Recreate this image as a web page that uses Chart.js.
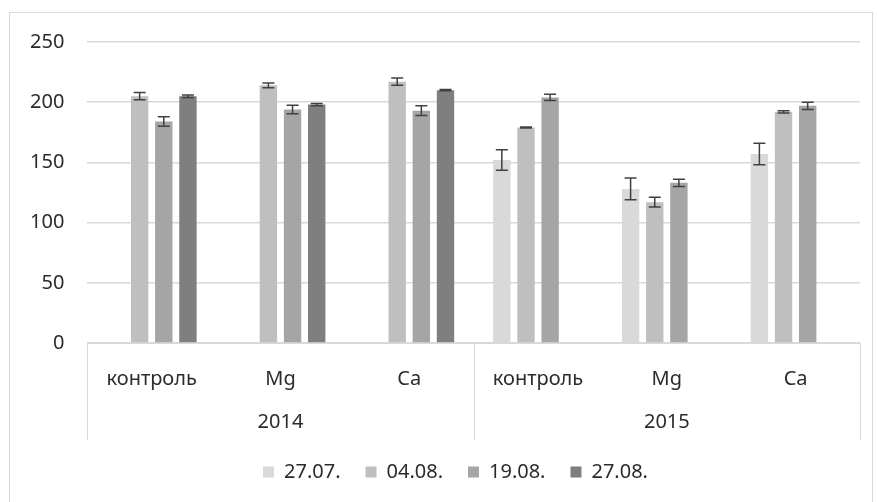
<!DOCTYPE html>
<html>
<head>
<meta charset="utf-8">
<title>Chart</title>
<script src="https://cdn.jsdelivr.net/npm/chart.js@4.4.1/dist/chart.umd.min.js"></script>
<style>
  html, body { margin: 0; padding: 0; background: #ffffff; overflow: hidden; }
  #wrap { position: relative; width: 877px; height: 502px; }
  #frame { position: absolute; left: 9px; top: 12px; width: 864px; height: 520px; border: 1px solid #d9d9d9; box-sizing: border-box; }
  #chart { position: absolute; left: 0; top: 0; }
</style>
</head>
<body>
<div id="wrap">
  <div id="frame"></div>
  <canvas id="chart" width="877" height="502"></canvas>
</div>
<script>
// categories (lower axis row) and years (upper group row)
var categories = ['контроль', 'Mg', 'Ca', 'контроль', 'Mg', 'Ca'];
var years = ['2014', '2015'];

// series names and colours
var seriesNames = ['27.07.', '04.08.', '19.08.', '27.08.'];
var seriesColors = ['#d9d9d9', '#bfbfbf', '#a5a5a5', '#7f7f7f'];

// values per series (null = no bar)
var values2707 = [null, null, null, 152, 128, 157];
var values0408 = [205, 214, 217, 179, 117, 192];
var values1908 = [184, 194, 193, 204, 133, 197];
var values2708 = [205, 198, 210, null, null, null];

// error bar half-lengths per series
var errors2707 = [0, 0, 0, 8.5, 9, 9];
var errors0408 = [3, 2, 3, 0.5, 4, 1];
var errors1908 = [4, 3.5, 4, 2.5, 3, 3];
var errors2708 = [1, 1, 0.5, 0, 0, 0];

// y axis ticks
var yMin = 0;
var yMax = 250;
var yStep = 50;

var seriesValues = [values2707, values0408, values1908, values2708];
var seriesErrors = [errors2707, errors0408, errors1908, errors2708];

var textColor = '#2b2b2b';
var fontFamily = '"Noto Sans", "DejaVu Sans", sans-serif';

/**
 * Draw symmetric error bars on top of each bar
 */
var errorBarPlugin = {
    id: 'errorBars',
    afterDatasetsDraw: function(chart) {
        var ctx = chart.ctx;
        var yScale = chart.scales.y;
        ctx.save();
        ctx.strokeStyle = '#404040';
        ctx.lineWidth = 1.5;
        chart.data.datasets.forEach(function(ds, i) {
            var meta = chart.getDatasetMeta(i);
            meta.data.forEach(function(bar, j) {
                var v = ds.data[j];
                var e = ds.errors[j];
                if (v === null || !e) {
                    return;
                }
                var yTop = yScale.getPixelForValue(v + e);
                var yBot = yScale.getPixelForValue(v - e);
                var half = 6;
                ctx.beginPath();
                ctx.moveTo(bar.x, yTop);
                ctx.lineTo(bar.x, yBot);
                ctx.moveTo(bar.x - half, yTop);
                ctx.lineTo(bar.x + half, yTop);
                ctx.moveTo(bar.x - half, yBot);
                ctx.lineTo(bar.x + half, yBot);
                ctx.stroke();
            });
        });
        ctx.restore();
    }
};

/**
 * Draw the box lines of the two-level category axis
 */
var groupLinesPlugin = {
    id: 'groupLines',
    afterDraw: function(chart) {
        var ctx = chart.ctx;
        var x = chart.scales.x;
        var x2 = chart.scales.x2;
        var top = chart.chartArea.bottom;
        var bottom = x2.bottom + 3;
        var xs = [x.left, (x.left + x.right) / 2, x.right];
        ctx.save();
        ctx.strokeStyle = '#d9d9d9';
        ctx.lineWidth = 1;
        xs.forEach(function(px) {
            ctx.beginPath();
            ctx.moveTo(Math.round(px) + 0.5, top);
            ctx.lineTo(Math.round(px) + 0.5, bottom);
            ctx.stroke();
        });
        ctx.restore();
    }
};

/**
 * Nudge the legend so it sits centred under the plot like the original
 */
var legendShiftPlugin = {
    id: 'legendShift',
    afterLayout: function(chart) {
        if (chart.legend) {
            chart.legend.left += 22;
            chart.legend.right += 22;
        }
    }
};

var datasets = seriesNames.map(function(name, i) {
    return {
        label: name,
        data: seriesValues[i],
        errors: seriesErrors[i],
        backgroundColor: seriesColors[i],
        borderWidth: 0,
        categoryPercentage: 0.75,
        barPercentage: 0.72
    };
});

var config = {
    type: 'bar',
    data: {
        labels: categories,
        datasets: datasets
    },
    options: {
        responsive: false,
        animation: false,
        devicePixelRatio: 1,
        layout: {
            padding: { left: 7, right: 17, top: 42, bottom: 10 }
        },
        scales: {
            x: {
                grid: { display: false },
                border: { display: true, color: '#d9d9d9', width: 1 },
                ticks: {
                    color: textColor,
                    padding: 16,
                    maxRotation: 0,
                    autoSkip: false,
                    font: { family: fontFamily, size: 20 }
                }
            },
            x2: {
                type: 'category',
                labels: years,
                position: 'bottom',
                offset: true,
                grid: { display: false, drawTicks: false },
                border: { display: false },
                ticks: {
                    color: textColor,
                    padding: 3,
                    maxRotation: 0,
                    font: { family: fontFamily, size: 20 }
                }
            },
            y: {
                min: yMin,
                max: yMax,
                grid: { color: '#d9d9d9', lineWidth: 1.5, drawTicks: false },
                border: { display: false },
                ticks: {
                    stepSize: yStep,
                    color: textColor,
                    padding: 23,
                    font: { family: fontFamily, size: 20 }
                }
            }
        },
        plugins: {
            legend: {
                display: true,
                position: 'bottom',
                labels: {
                    boxWidth: 11,
                    boxHeight: 11,
                    padding: 25,
                    color: textColor,
                    font: { family: fontFamily, size: 20 }
                }
            },
            tooltip: { enabled: false }
        }
    },
    plugins: [errorBarPlugin, groupLinesPlugin, legendShiftPlugin]
};

new Chart(document.getElementById('chart').getContext('2d'), config);
</script>
</body>
</html>
